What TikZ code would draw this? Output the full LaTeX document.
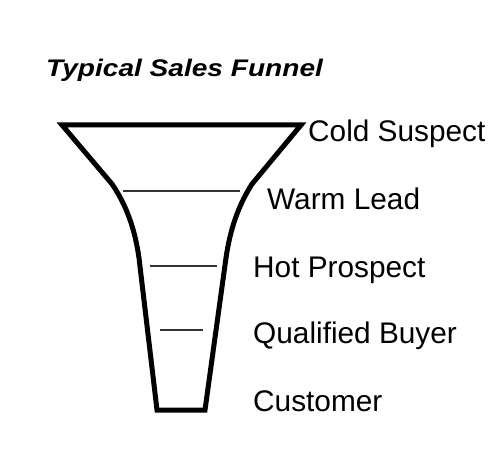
\documentclass[tikz,border=0pt]{standalone}
\usepackage{fontspec}
\setmainfont{Liberation Sans}
\newfontfamily\titlefont[FakeStretch=1.17]{Liberation Sans}
\usetikzlibrary{positioning}

\tikzset{
  rim/.style={line width=5pt,line join=miter},
  divider/.style={line width=1.3pt,black!80},
  stage/.style={anchor=base west,inner sep=0pt,font=\fontsize{29.8}{31}\selectfont}
}

\begin{document}
\begin{tikzpicture}[x=1pt,y=-1pt]
\useasboundingbox (0,0) rectangle (500,462);

\node[anchor=base west,inner sep=0pt,font=\titlefont\fontsize{24}{26}\selectfont\bfseries\itshape]
  (title) at (46,77) {Typical Sales Funnel};

% funnel outline
\draw[rim] (62,125) -- (301,125) -- (252,184)
  .. controls (238,206) and (230,230) .. (226,258) -- (205,410)
  -- (157,410) -- (139,258)
  .. controls (135,230) and (127,206) .. (112,184) -- cycle;

% stage dividers
\coordinate (d1l) at (123,191); \coordinate (d1r) at (240,191);
\coordinate (d2l) at (150,266); \coordinate (d2r) at (217,266);
\coordinate (d3l) at (160,330); \coordinate (d3r) at (203,330);
\foreach \n in {1,2,3}
  \draw[divider] (d\n l) -- (d\n r);

\foreach \s/\x/\y [count=\n] in
  {Cold Suspect/308/142, Warm Lead/267/210, Hot Prospect/253/277,
   Qualified Buyer/253/343, Customer/253/411}
  \node[stage] (S\n) at (\x,\y) {\s};
\end{tikzpicture}
\end{document}
